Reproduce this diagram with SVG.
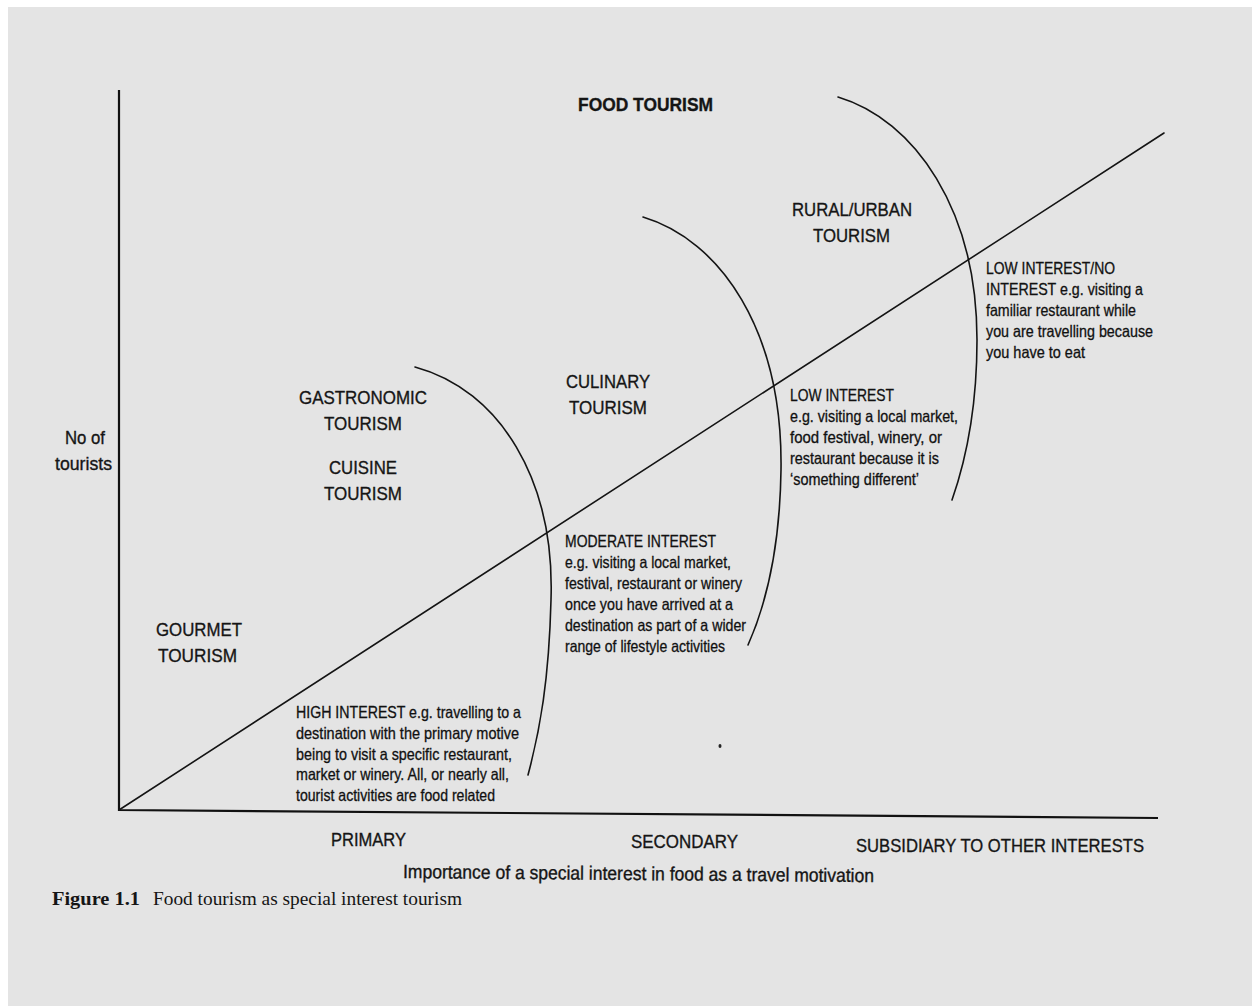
<svg xmlns="http://www.w3.org/2000/svg" width="1252" height="1006" viewBox="0 0 1252 1006">
<style>
.ln{fill:none;stroke:#141414;stroke-width:1.6;stroke-linecap:round}
.ax{fill:none;stroke:#111;stroke-width:2.2}
.lb{font-family:"Liberation Sans",Arial,sans-serif;font-size:19px;fill:#151515;stroke:#151515;stroke-width:0.35}
.pt{font-family:"Liberation Sans",Arial,sans-serif;font-size:16.5px;fill:#111;stroke:#111;stroke-width:0.3}
.cap{font-family:"Liberation Serif","Times New Roman",serif;font-size:19px;fill:#151515}
</style>
<rect x="0" y="0" width="1252" height="1006" fill="#ffffff"/>
<rect x="8" y="7" width="1244" height="999" fill="#e4e4e4"/>
<g id="connectors">
<path class="ax" d="M119,90 L119,810 L1158,818"/>
<path class="ln" d="M119,810 L1164,133"/>
<path class="ln" d="M415,367 C500,390 555,480 551,600 C549,680 540,730 528,775"/>
<path class="ln" d="M643,217 C720,240 783,330 781,470 C780,540 768,600 748,645"/>
<path class="ln" d="M838,97 C915,120 977,210 977,340 C977,410 966,460 952,500"/>
</g>
<g id="food-tourism"><text class="lb" x="578" y="111" font-weight="bold" textLength="135" lengthAdjust="spacingAndGlyphs">FOOD TOURISM</text></g>
<g id="rural-urban">
<text class="lb" x="792" y="216" textLength="120" lengthAdjust="spacingAndGlyphs">RURAL/URBAN</text>
<text class="lb" x="813" y="242" textLength="77" lengthAdjust="spacingAndGlyphs">TOURISM</text>
</g>
<g id="gastronomic">
<text class="lb" x="299" y="404" textLength="128" lengthAdjust="spacingAndGlyphs">GASTRONOMIC</text>
<text class="lb" x="324" y="430" textLength="78" lengthAdjust="spacingAndGlyphs">TOURISM</text>
</g>
<g id="cuisine">
<text class="lb" x="329" y="474" textLength="68" lengthAdjust="spacingAndGlyphs">CUISINE</text>
<text class="lb" x="324" y="500" textLength="78" lengthAdjust="spacingAndGlyphs">TOURISM</text>
</g>
<g id="culinary">
<text class="lb" x="566" y="388" textLength="84" lengthAdjust="spacingAndGlyphs">CULINARY</text>
<text class="lb" x="569" y="414" textLength="78" lengthAdjust="spacingAndGlyphs">TOURISM</text>
</g>
<g id="gourmet">
<text class="lb" x="156" y="636" textLength="86" lengthAdjust="spacingAndGlyphs">GOURMET</text>
<text class="lb" x="158" y="662" textLength="79" lengthAdjust="spacingAndGlyphs">TOURISM</text>
</g>
<g id="y-axis-label">
<text class="lb" x="65" y="444" textLength="40" lengthAdjust="spacingAndGlyphs">No of</text>
<text class="lb" x="55" y="470" textLength="57" lengthAdjust="spacingAndGlyphs">tourists</text>
</g>
<g id="high-interest">
<text class="pt" x="296" y="718" textLength="225" lengthAdjust="spacingAndGlyphs">HIGH INTEREST e.g. travelling to a</text>
<text class="pt" x="296" y="739" textLength="223" lengthAdjust="spacingAndGlyphs">destination with the primary motive</text>
<text class="pt" x="296" y="760" textLength="216" lengthAdjust="spacingAndGlyphs">being to visit a specific restaurant,</text>
<text class="pt" x="296" y="780" textLength="213" lengthAdjust="spacingAndGlyphs">market or winery. All, or nearly all,</text>
<text class="pt" x="296" y="801" textLength="199" lengthAdjust="spacingAndGlyphs">tourist activities are food related</text>
</g>
<g id="moderate-interest">
<text class="pt" x="565" y="547" textLength="151" lengthAdjust="spacingAndGlyphs">MODERATE INTEREST</text>
<text class="pt" x="565" y="568" textLength="166" lengthAdjust="spacingAndGlyphs">e.g. visiting a local market,</text>
<text class="pt" x="565" y="589" textLength="177" lengthAdjust="spacingAndGlyphs">festival, restaurant or winery</text>
<text class="pt" x="565" y="610" textLength="168" lengthAdjust="spacingAndGlyphs">once you have arrived at a</text>
<text class="pt" x="565" y="631" textLength="181" lengthAdjust="spacingAndGlyphs">destination as part of a wider</text>
<text class="pt" x="565" y="652" textLength="160" lengthAdjust="spacingAndGlyphs">range of lifestyle activities</text>
</g>
<g id="low-interest">
<text class="pt" x="790" y="401" textLength="104" lengthAdjust="spacingAndGlyphs">LOW INTEREST</text>
<text class="pt" x="790" y="422" textLength="168" lengthAdjust="spacingAndGlyphs">e.g. visiting a local market,</text>
<text class="pt" x="790" y="443" textLength="152" lengthAdjust="spacingAndGlyphs">food festival, winery, or</text>
<text class="pt" x="790" y="464" textLength="149" lengthAdjust="spacingAndGlyphs">restaurant because it is</text>
<text class="pt" x="790" y="485" textLength="129" lengthAdjust="spacingAndGlyphs">‘something different’</text>
</g>
<g id="no-interest">
<text class="pt" x="986" y="274" textLength="129" lengthAdjust="spacingAndGlyphs">LOW INTEREST/NO</text>
<text class="pt" x="986" y="295" textLength="157" lengthAdjust="spacingAndGlyphs">INTEREST e.g. visiting a</text>
<text class="pt" x="986" y="316" textLength="150" lengthAdjust="spacingAndGlyphs">familiar restaurant while</text>
<text class="pt" x="986" y="337" textLength="167" lengthAdjust="spacingAndGlyphs">you are travelling because</text>
<text class="pt" x="986" y="358" textLength="99" lengthAdjust="spacingAndGlyphs">you have to eat</text>
</g>
<g id="x-axis-labels">
<text class="lb" x="331" y="846" textLength="75" lengthAdjust="spacingAndGlyphs">PRIMARY</text>
<text class="lb" x="631" y="848" textLength="107" lengthAdjust="spacingAndGlyphs">SECONDARY</text>
<text class="lb" x="856" y="852" textLength="288" lengthAdjust="spacingAndGlyphs">SUBSIDIARY TO OTHER INTERESTS</text>
<text class="lb" x="403" y="878" textLength="471" lengthAdjust="spacingAndGlyphs" transform="rotate(0.5 403 878)">Importance of a special interest in food as a travel motivation</text>
</g>
<g id="caption">
<text class="cap" x="52" y="905" font-weight="bold" textLength="88" lengthAdjust="spacingAndGlyphs">Figure 1.1</text>
<text class="cap" x="153" y="905" textLength="309" lengthAdjust="spacingAndGlyphs">Food tourism as special interest tourism</text>
</g>
<ellipse cx="720" cy="746" rx="1.5" ry="2" fill="#222"/>
</svg>
